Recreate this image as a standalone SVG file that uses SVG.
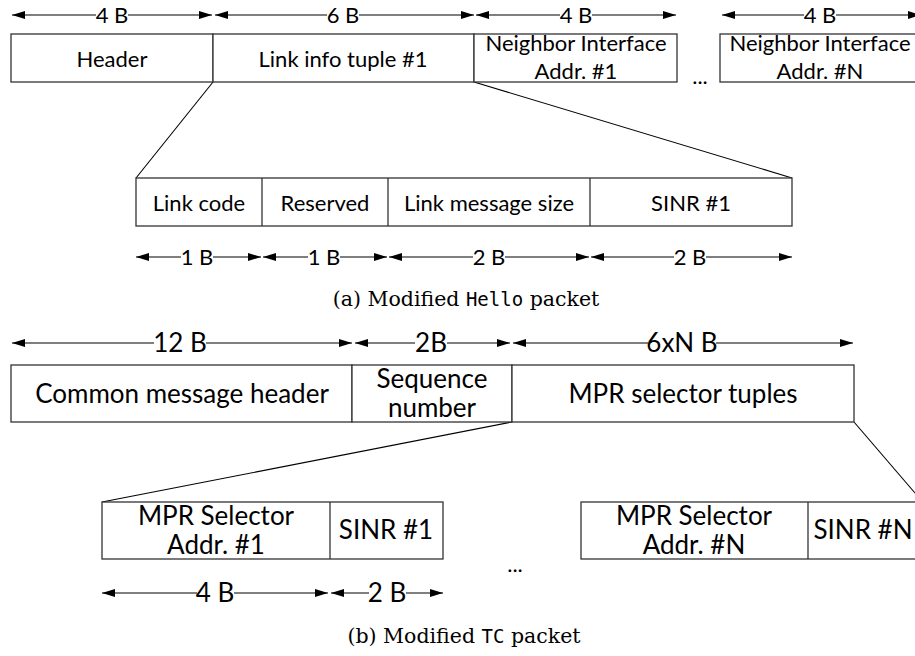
<svg xmlns="http://www.w3.org/2000/svg" width="915" height="656" viewBox="0 0 915 656">
<defs>
<marker id="ah" viewBox="0 0 13 8" refX="13" refY="4" markerWidth="13" markerHeight="8" markerUnits="userSpaceOnUse" orient="auto-start-reverse">
<path d="M0,0 L13,4 L0,8 z" fill="#000"/>
</marker>
<style>
.box{fill:#fff;stroke:#333;stroke-width:1.3}
.div{stroke:#333;stroke-width:1.3}
.lbl{font-family:Lato,"Liberation Sans",sans-serif;fill:#000;text-anchor:middle}
.s22{font-size:22px}
.s26{font-size:26px}
.dim{stroke:#000;stroke-width:1.1;fill:none;marker-start:url(#ah);marker-end:url(#ah)}
.gap{fill:#fff;stroke:none}
.dl{font-family:Lato,"Liberation Sans",sans-serif;font-size:22px;text-anchor:middle;fill:#000}
.dl26{font-size:26px}
.zoom{stroke:#000;stroke-width:1.1;fill:none}
.cap{font-family:"DejaVu Serif",serif;font-size:20.5px;fill:#000;text-anchor:middle}
.mono{font-family:"DejaVu Sans Mono",monospace;font-size:19px}
</style>
</defs>

<g id="connectors">
<line class="zoom" x1="213" y1="82" x2="136" y2="178"/>
<line class="zoom" x1="474" y1="82" x2="792" y2="178"/>
<line class="zoom" x1="512" y1="422" x2="102" y2="502"/>
<line class="zoom" x1="854" y1="422" x2="921" y2="500"/>
</g>

<g id="dims-hello-top">
<line class="dim" x1="12" y1="15" x2="212" y2="15"/>
<rect class="gap" x="96" y="5" width="32" height="20"/>
<text class="dl" x="112" y="23">4 B</text>
<line class="dim" x1="215" y1="15" x2="474" y2="15"/>
<rect class="gap" x="327" y="5" width="32" height="20"/>
<text class="dl" x="343" y="23">6 B</text>
<line class="dim" x1="476" y1="15" x2="676" y2="15"/>
<rect class="gap" x="560" y="5" width="32" height="20"/>
<text class="dl" x="576" y="23">4 B</text>
<line class="dim" x1="722" y1="15" x2="921" y2="15"/>
<rect class="gap" x="804" y="5" width="32" height="20"/>
<text class="dl" x="820" y="23">4 B</text>
</g>

<g id="hello-header">
<rect class="box" x="11" y="34" width="202" height="48"/>
<text class="lbl s22" x="112" y="67">Header</text>
</g>
<g id="hello-linkinfo">
<rect class="box" x="213" y="34" width="261" height="48"/>
<text class="lbl s22" x="343" y="67">Link info tuple #1</text>
</g>
<g id="hello-neighbor1">
<rect class="box" x="474" y="34" width="203" height="48"/>
<text class="lbl s22" x="576" y="51">Neighbor Interface</text>
<text class="lbl s22" x="576" y="79">Addr. #1</text>
</g>
<text class="lbl s22" x="700" y="84">...</text>
<g id="hello-neighborN">
<rect class="box" x="720" y="34" width="203" height="48"/>
<text class="lbl s22" x="820" y="51">Neighbor Interface</text>
<text class="lbl s22" x="820" y="79">Addr. #N</text>
</g>

<g id="hello-tuple">
<rect class="box" x="136" y="178" width="656" height="48"/>
<line class="div" x1="262" y1="178" x2="262" y2="226"/>
<line class="div" x1="388" y1="178" x2="388" y2="226"/>
<line class="div" x1="590" y1="178" x2="590" y2="226"/>
<text class="lbl s22" x="199" y="211">Link code</text>
<text class="lbl s22" x="325" y="211">Reserved</text>
<text class="lbl s22" x="489" y="211">Link message size</text>
<text class="lbl s22" x="691" y="211">SINR #1</text>
</g>

<g id="dims-hello-tuple">
<line class="dim" x1="136" y1="257" x2="261" y2="257"/>
<rect class="gap" x="181" y="247" width="32" height="20"/>
<text class="dl" x="197" y="265">1 B</text>
<line class="dim" x1="263" y1="257" x2="387" y2="257"/>
<rect class="gap" x="308" y="247" width="32" height="20"/>
<text class="dl" x="324" y="265">1 B</text>
<line class="dim" x1="389" y1="257" x2="589" y2="257"/>
<rect class="gap" x="473" y="247" width="32" height="20"/>
<text class="dl" x="489" y="265">2 B</text>
<line class="dim" x1="591" y1="257" x2="792" y2="257"/>
<rect class="gap" x="674" y="247" width="32" height="20"/>
<text class="dl" x="690" y="265">2 B</text>
</g>

<text class="cap" x="466" y="306">(a) Modified <tspan class="mono">Hello</tspan> packet</text>

<g id="dims-tc-top">
<line class="dim" x1="12" y1="343" x2="352" y2="343"/>
<rect class="gap" x="154" y="331" width="52" height="24"/>
<text class="dl dl26" x="180" y="352">12 B</text>
<line class="dim" x1="355" y1="343" x2="510" y2="343"/>
<rect class="gap" x="415" y="331" width="32" height="24"/>
<text class="dl dl26" x="431" y="352">2B</text>
<line class="dim" x1="513" y1="343" x2="853" y2="343"/>
<rect class="gap" x="648" y="331" width="68" height="24"/>
<text class="dl dl26" x="682" y="352">6xN B</text>
</g>

<g id="tc-header">
<rect class="box" x="11" y="365" width="341" height="57"/>
<text class="lbl s26" x="182" y="403">Common message header</text>
</g>
<g id="tc-seq">
<rect class="box" x="352" y="365" width="160" height="57"/>
<text class="lbl s26" x="432" y="388">Sequence</text>
<text class="lbl s26" x="432" y="417">number</text>
</g>
<g id="tc-mpr">
<rect class="box" x="512" y="365" width="342" height="57"/>
<text class="lbl s26" x="683" y="403">MPR selector tuples</text>
</g>

<g id="tc-tuple1">
<rect class="box" x="102" y="502" width="341" height="57"/>
<line class="div" x1="330" y1="502" x2="330" y2="559"/>
<text class="lbl s26" x="216" y="525">MPR Selector</text>
<text class="lbl s26" x="216" y="554">Addr. #1</text>
<text class="lbl s26" x="386" y="539">SINR #1</text>
</g>
<text class="lbl s22" x="515" y="572">...</text>
<g id="tc-tupleN">
<rect class="box" x="581" y="502" width="340" height="57"/>
<line class="div" x1="808" y1="502" x2="808" y2="559"/>
<text class="lbl s26" x="694" y="525">MPR Selector</text>
<text class="lbl s26" x="694" y="554">Addr. #N</text>
<text class="lbl s26" x="863" y="539">SINR #N</text>
</g>

<g id="dims-tc-tuple">
<line class="dim" x1="102" y1="593" x2="328" y2="593"/>
<rect class="gap" x="197" y="581" width="37" height="24"/>
<text class="dl dl26" x="215" y="602">4 B</text>
<line class="dim" x1="331" y1="593" x2="443" y2="593"/>
<rect class="gap" x="369" y="581" width="37" height="24"/>
<text class="dl dl26" x="387" y="602">2 B</text>
</g>

<text class="cap" x="464" y="643">(b) Modified <tspan class="mono">TC</tspan> packet</text>
</svg>
